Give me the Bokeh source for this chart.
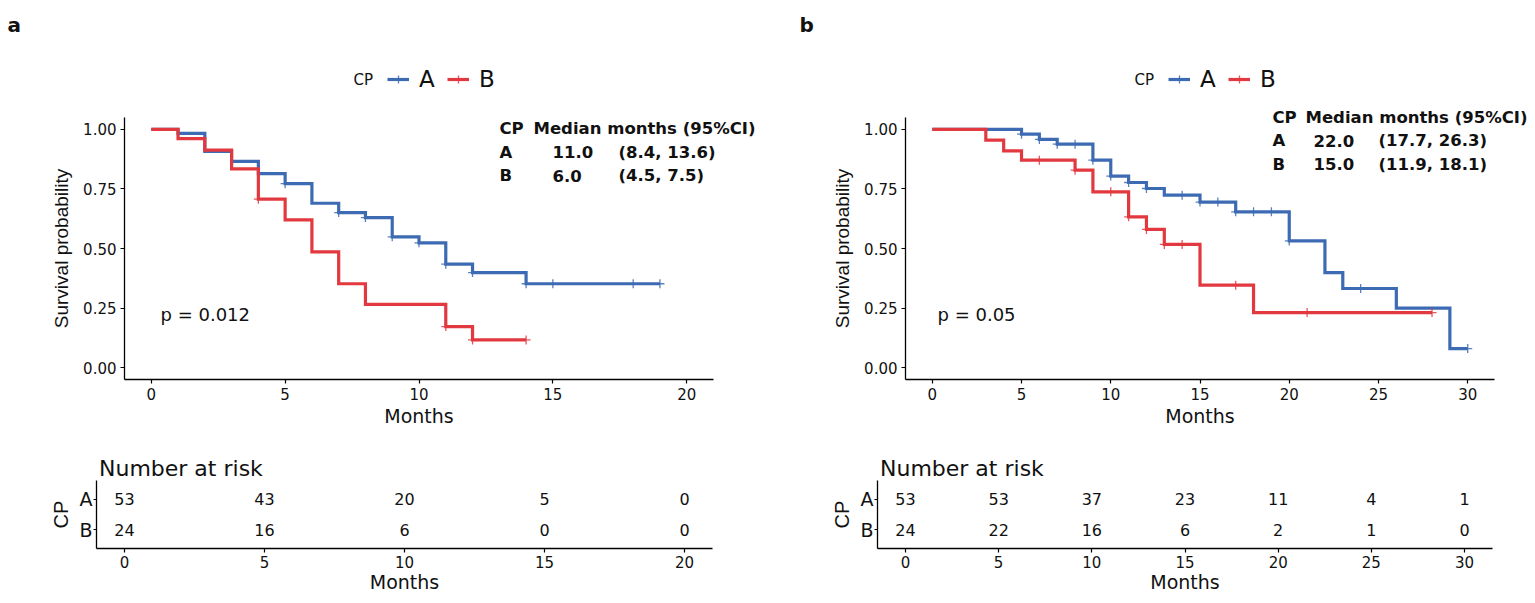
import numpy as np
from bokeh.plotting import figure
from bokeh.layouts import row, column
from bokeh.models import (Range1d, FixedTicker, Label, Legend, LegendItem,
                          ColumnDataSource, NumeralTickFormatter)
from bokeh.core.properties import value
from bokeh.embed import file_html
from bokeh.resources import INLINE

# ---------------- data : panel a ----------------
a_A_time = [0, 1, 2, 3, 4, 5, 6, 7, 8, 9, 10, 11, 12, 14, 19]
a_A_surv = [1.0, 0.983, 0.908, 0.866, 0.814, 0.772, 0.690, 0.651, 0.630, 0.549, 0.524, 0.434, 0.399, 0.352, 0.352]
a_A_cens = [5, 7, 8, 9, 10, 11, 12, 14, 15, 18, 19]
a_B_time = [0, 1, 2, 3, 4, 5, 6, 7, 8, 11, 12, 14]
a_B_surv = [1.0, 0.961, 0.913, 0.834, 0.707, 0.620, 0.486, 0.352, 0.265, 0.172, 0.116, 0.116]
a_B_cens = [4, 11, 12, 14]
a_xticks = [0, 5, 10, 15, 20]
a_risk_time = [0, 5, 10, 15, 20]
a_risk_A = [53, 43, 20, 5, 0]
a_risk_B = [24, 16, 6, 0, 0]
a_med_group = ["A", "B"]
a_med_value = ["11.0", "6.0"]
a_med_ci = ["(8.4, 13.6)", "(4.5, 7.5)"]
a_pval = "p = 0.012"

# ---------------- data : panel b ----------------
b_A_time = [0, 5, 6, 7, 9, 10, 11, 12, 13, 15, 17, 20, 22, 23, 26, 29, 30]
b_A_surv = [1.0, 0.980, 0.958, 0.938, 0.871, 0.804, 0.777, 0.752, 0.724, 0.695, 0.654, 0.532, 0.399, 0.332, 0.250, 0.080, 0.080]
b_A_cens = [5, 6, 7, 8, 9, 10, 11, 12, 14, 15, 16, 17, 18, 19, 20, 24, 30]
b_B_time = [0, 3, 4, 5, 8, 9, 11, 12, 13, 15, 18, 28]
b_B_surv = [1.0, 0.955, 0.910, 0.871, 0.829, 0.738, 0.633, 0.580, 0.517, 0.346, 0.231, 0.231]
b_B_cens = [6, 8, 10, 11, 12, 13, 14, 17, 21, 28]
b_xticks = [0, 5, 10, 15, 20, 25, 30]
b_risk_time = [0, 5, 10, 15, 20, 25, 30]
b_risk_A = [53, 53, 37, 23, 11, 4, 1]
b_risk_B = [24, 22, 16, 6, 2, 1, 0]
b_med_group = ["A", "B"]
b_med_value = ["22.0", "15.0"]
b_med_ci = ["(17.7, 26.3)", "(11.9, 18.1)"]
b_pval = "p = 0.05"

groups = ["A", "B"]
BLUE = "#3D6BB3"
RED = "#E2383F"
HF = "DejaVu Sans"
VF = "Liberation Sans"
TXT = "#111111"

TOP_Y0, TOP_Y1 = 0, 440
RISK_Y0, RISK_Y1 = 440, 597


def surv_at(times, surv, t):
    idx = np.searchsorted(np.asarray(times, float), np.asarray(t, float), side="right") - 1
    return list(np.asarray(surv)[idx])


def page_range(page_lo, page_hi, p0, v0, p1, v1):
    """data range whose ends fall on page pixels page_lo / page_hi, given two anchors"""
    k = (v1 - v0) / (p1 - p0)
    return Range1d(v0 + (page_lo - p0) * k, v0 + (page_hi - p0) * k)


def add_label(p, text, X, Y, left, bottom, size, font=HF, bold=False, align="left",
              baseline="middle", angle=0.0):
    p.add_layout(Label(x=X - left, y=bottom - Y, x_units="screen", y_units="screen",
                       text=text, text_font=font, text_font_size=f"{size}px",
                       text_font_style="bold" if bold else "normal",
                       text_align=align, text_baseline=baseline, angle=angle,
                       text_color=TXT))


def style_axis(ax, label_font, label_size, tick_size, standoff, label_standoff):
    ax.axis_line_color = "black"
    ax.axis_line_width = 1.3
    ax.major_tick_line_color = "black"
    ax.major_tick_line_width = 1.2
    ax.major_tick_out = 4
    ax.major_tick_in = 0
    ax.minor_tick_line_color = None
    ax.major_label_text_font = HF
    ax.major_label_text_font_size = f"{tick_size}px"
    ax.major_label_text_color = TXT
    ax.major_label_standoff = standoff
    ax.axis_label_text_font = label_font
    ax.axis_label_text_font_size = f"{label_size}px"
    ax.axis_label_text_font_style = "normal"
    ax.axis_label_text_color = TXT
    ax.axis_label_standoff = label_standoff


def bare_figure(W, H, xr, yr):
    p = figure(width=W, height=H, min_border=0, min_border_left=0, min_border_right=0,
               min_border_top=0, min_border_bottom=0, x_range=xr, y_range=yr,
               output_backend="svg", toolbar_location=None)
    p.xgrid.visible = False
    p.ygrid.visible = False
    p.outline_line_color = None
    return p


def make_top(letter, letter_x, xmax, xticks, At, As, Ac, Bt, Bs, Bc,
             page_left, W, axis_left, axis_right, legend_cp_x, legend_x,
             med_rows, med_cols, med_y0, med_dy, med_head_x, pval, pval_x):
    page_top, page_bottom = TOP_Y0, TOP_Y1
    xlo, xhi = -0.05 * xmax, 1.05 * xmax
    ylo, yhi = -0.05, 1.05
    xr = page_range(page_left, page_left + W, axis_left, xlo, axis_right, xhi)
    yr = page_range(page_bottom, page_top, 379, ylo, 117, yhi)
    p = bare_figure(W, page_bottom - page_top, xr, yr)

    p.xaxis.ticker = FixedTicker(ticks=xticks)
    p.yaxis.ticker = FixedTicker(ticks=[0, 0.25, 0.5, 0.75, 1.0])
    p.yaxis.formatter = NumeralTickFormatter(format="0.00")
    p.xaxis.axis_label = "Months"
    p.yaxis.axis_label = "Survival probability"
    p.xaxis.fixed_location = ylo
    p.yaxis.fixed_location = xlo
    p.xaxis.bounds = (xlo, xhi)
    p.yaxis.bounds = (ylo, yhi)
    style_axis(p.xaxis[0], HF, 19, 15, 4, 2)
    style_axis(p.yaxis[0], VF, 19, 15, 4, 8)

    rA = p.step(At, As, mode="after", line_color=BLUE, line_width=3.2, line_join="miter")
    rB = p.step(Bt, Bs, mode="after", line_color=RED, line_width=3.2, line_join="miter")
    cA = p.scatter(Ac, surv_at(At, As, Ac), marker="cross", size=9, line_width=1.3,
                   line_color=BLUE, line_alpha=0.85)
    cB = p.scatter(Bc, surv_at(Bt, Bs, Bc), marker="cross", size=9, line_width=1.3,
                   line_color=RED, line_alpha=0.85)

    legend = Legend(items=[LegendItem(label=groups[0], renderers=[rA, cA]),
                           LegendItem(label=groups[1], renderers=[rB, cB])],
                    orientation="horizontal", location=(legend_x - page_left, page_bottom - 92),
                    glyph_width=22, glyph_height=20, label_standoff=10, spacing=8,
                    padding=0, margin=0, border_line_alpha=0, background_fill_alpha=0,
                    label_text_font=HF, label_text_font_size="23px", label_text_color=TXT)
    p.add_layout(legend)

    L, B = page_left, page_bottom
    add_label(p, letter, letter_x, 24, L, B, 20, bold=True, baseline="alphabetic")
    add_label(p, "CP", legend_cp_x, 79, L, B, 15)

    add_label(p, "CP", med_cols[0], med_y0, L, B, 16.5, bold=True)
    add_label(p, "Median months (95%CI)", med_head_x, med_y0, L, B, 16.5, bold=True)
    for i, (g, v, ci) in enumerate(med_rows):
        y = med_y0 + med_dy * (i + 1)
        add_label(p, g, med_cols[0], y, L, B, 16.5, bold=True)
        add_label(p, v, med_cols[1], y, L, B, 16.5, bold=True)
        add_label(p, ci, med_cols[2], y, L, B, 16.5, bold=True)

    add_label(p, pval, pval_x, 314, L, B, 18, baseline="alphabetic")
    return p


def make_risk(xmax, xticks, rt, rA, rB, page_left, W, axis_left, axis_right):
    page_top, page_bottom = RISK_Y0, RISK_Y1
    xlo, xhi = -0.05 * xmax, 1.05 * xmax
    ylo, yhi = 0.4, 2.6
    xr = page_range(page_left, page_left + W, axis_left, xlo, axis_right, xhi)
    yr = page_range(page_bottom, page_top, 548, ylo, 480, yhi)
    p = bare_figure(W, page_bottom - page_top, xr, yr)

    p.xaxis.ticker = FixedTicker(ticks=xticks)
    p.yaxis.ticker = FixedTicker(ticks=[1, 2])
    p.yaxis.major_label_overrides = {1: groups[1], 2: groups[0]}
    p.xaxis.axis_label = "Months"
    p.yaxis.axis_label = "CP"
    p.xaxis.fixed_location = ylo
    p.yaxis.fixed_location = xlo
    p.xaxis.bounds = (xlo, xhi)
    p.yaxis.bounds = (ylo, yhi)
    style_axis(p.xaxis[0], HF, 19, 15, 3, 0)
    style_axis(p.yaxis[0], VF, 20, 19, 1, 4)
    p.yaxis[0].major_tick_out = 3

    src = ColumnDataSource(dict(x=list(rt) + list(rt),
                                y=[2] * len(rt) + [1] * len(rt),
                                t=[str(v) for v in rA] + [str(v) for v in rB]))
    p.text(x="x", y="y", text="t", source=src, text_font=value(HF),
           text_font_size=value("16px"), text_align="center", text_baseline="middle",
           text_color=TXT)
    add_label(p, "Number at risk", axis_left + 2.5, 468, page_left, page_bottom, 22,
              baseline="alphabetic")
    return p


top_a = make_top("a", 7, 20, a_xticks, a_A_time, a_A_surv, a_A_cens, a_B_time, a_B_surv, a_B_cens,
                 0, 775, 124, 713, 353, 387,
                 list(zip(a_med_group, a_med_value, a_med_ci)), [499, 552, 618], 128, 23.5,
                 533, a_pval, 160)
top_b = make_top("b", 799, 30, b_xticks, b_A_time, b_A_surv, b_A_cens, b_B_time, b_B_surv, b_B_cens,
                 775, 752, 905, 1494, 1134, 1168,
                 list(zip(b_med_group, b_med_value, b_med_ci)), [1272, 1313, 1378], 117, 23.3,
                 1305, b_pval, 937)
risk_a = make_risk(20, a_xticks, a_risk_time, a_risk_A, a_risk_B, 0, 775, 96, 712)
risk_b = make_risk(30, b_xticks, b_risk_time, b_risk_A, b_risk_B, 775, 752, 877, 1492)

layout = row(column(top_a, risk_a), column(top_b, risk_b))

with open("out.html", "w") as f:
    f.write(file_html(layout, INLINE))
